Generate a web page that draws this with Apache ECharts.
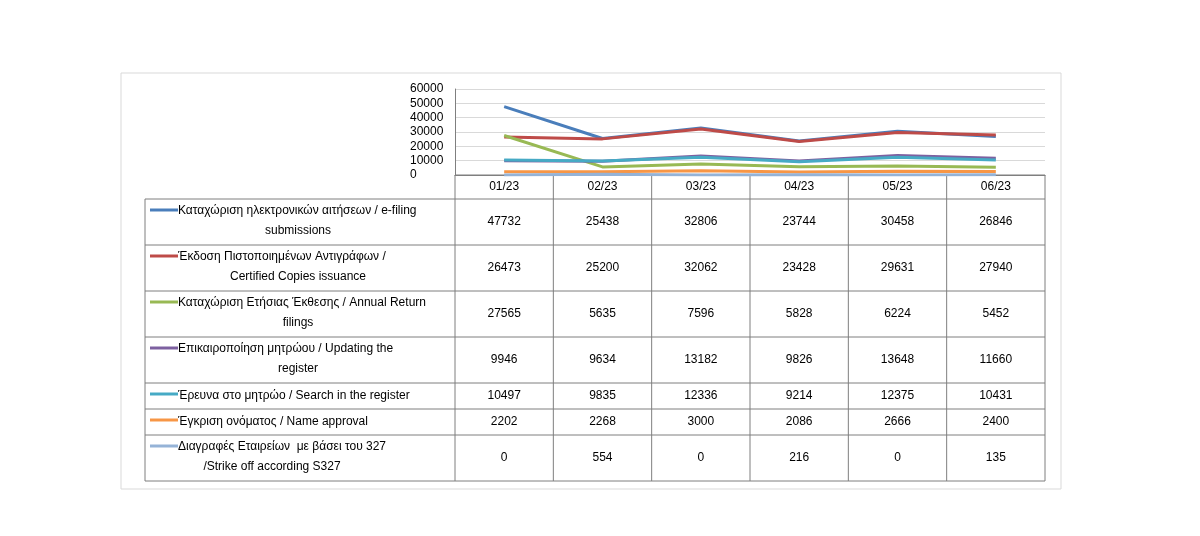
<!DOCTYPE html><html><head><meta charset="utf-8">
<script src="https://cdn.jsdelivr.net/npm/echarts@6/dist/echarts.min.js"></script>
<style>html,body{margin:0;background:#fff}#c{width:1200px;height:536px}</style></head><body><div id="c"></div>
<script>
const categories=['01/23','02/23','03/23','04/23','05/23','06/23'];
const names=['Καταχώριση ηλεκτρονικών αιτήσεων / e-filing\nsubmissions','Έκδοση Πιστοποιημένων Αντιγράφων /\nCertified Copies issuance','Καταχώριση Ετήσιας Έκθεσης / Annual Return\nfilings','Επικαιροποίηση μητρώου / Updating the\nregister','Έρευνα στο μητρώο / Search in the register','Έγκριση ονόματος / Name approval','Διαγραφές Εταιρείων  με βάσει του 327\n/Strike off according S327'];
const efiling=[47732,25438,32806,23744,30458,26846];
const certified=[26473,25200,32062,23428,29631,27940];
const annual=[27565,5635,7596,5828,6224,5452];
const updating=[9946,9634,13182,9826,13648,11660];
const search=[10497,9835,12336,9214,12375,10431];
const nameApproval=[2202,2268,3000,2086,2666,2400];
const strikeOff=[0,554,0,216,0,135];
const yTicks=[0,10000,20000,30000,40000,50000,60000];
const data=[efiling,certified,annual,updating,search,nameApproval,strikeOff];
const colors=['#4a7ebb','#be4b48','#98b954','#7d60a0','#46aac5','#f79646','#95b3d7'];
const L=455,R=1045,T=89,B=175,tableLeft=145;
const rowH=[46,46,46,46,26,26,46];
const colW=(R-L)/categories.length;
const g=[];
const F='"Liberation Sans",Arial,sans-serif';
g.push({type:'rect',shape:{x:121,y:73,width:940,height:416},style:{fill:'none',stroke:'#d9d9d9',lineWidth:1}});
let y=B+24;
const total=y+rowH.reduce((a,b)=>a+b,0);
g.push({type:'line',shape:{x1:L,y1:B,x2:R,y2:B},style:{stroke:'#7f7f7f'}});
categories.forEach((c,i)=>g.push({type:'text',x:L+colW*(i+0.5),y:B+12,style:{text:c,font:'12px '+F,fill:'#000',align:'center',verticalAlign:'middle'}}));
for(let i=0;i<=categories.length;i++)g.push({type:'line',shape:{x1:L+colW*i,y1:B,x2:L+colW*i,y2:total},style:{stroke:'#7f7f7f'}});
g.push({type:'line',shape:{x1:tableLeft,y1:y,x2:tableLeft,y2:total},style:{stroke:'#7f7f7f'}});
g.push({type:'line',shape:{x1:tableLeft,y1:y,x2:R,y2:y},style:{stroke:'#7f7f7f'}});
names.forEach((n,r)=>{
  const h=rowH[r],cy=y+h/2;
  g.push({type:'line',shape:{x1:150,y1:y+11,x2:178,y2:y+11},style:{stroke:colors[r],lineWidth:3}});
  const lines=n.split('\n');
  lines.forEach((t,k)=>g.push({type:'text',x:k==0?178:(r==6?272:298),y:lines.length>1?y+12+k*20:cy,style:{text:t,font:'12px '+F,fill:'#000',align:k==0?'left':'center',verticalAlign:'middle'}}));
  data[r].forEach((v,i)=>g.push({type:'text',x:L+colW*(i+0.5),y:cy,style:{text:String(v),font:'12px '+F,fill:'#000',align:'center',verticalAlign:'middle'}}));
  y+=h;
  g.push({type:'line',shape:{x1:tableLeft,y1:y,x2:R,y2:y},style:{stroke:'#7f7f7f'}});
});
const chart=echarts.init(document.getElementById('c'));
chart.setOption({animation:false,
grid:{left:L,right:1200-R,top:T,bottom:536-B},
xAxis:{type:'category',data:categories,boundaryGap:true,axisLabel:{show:false},axisTick:{show:false},axisLine:{lineStyle:{color:'#7f7f7f'}}},
yAxis:{type:'value',min:0,max:60000,interval:10000,axisLabel:{fontSize:12,fontFamily:F,color:'#000',margin:45,align:'left',formatter:v=>String(v)},axisLine:{show:true,lineStyle:{color:'#7f7f7f'}},splitLine:{lineStyle:{color:'#d9d9d9'}}},
series:data.map((d,i)=>({type:'line',data:d,symbol:'none',lineStyle:{width:3,color:colors[i]},itemStyle:{color:colors[i]}})),
graphic:g});
</script></body></html>
